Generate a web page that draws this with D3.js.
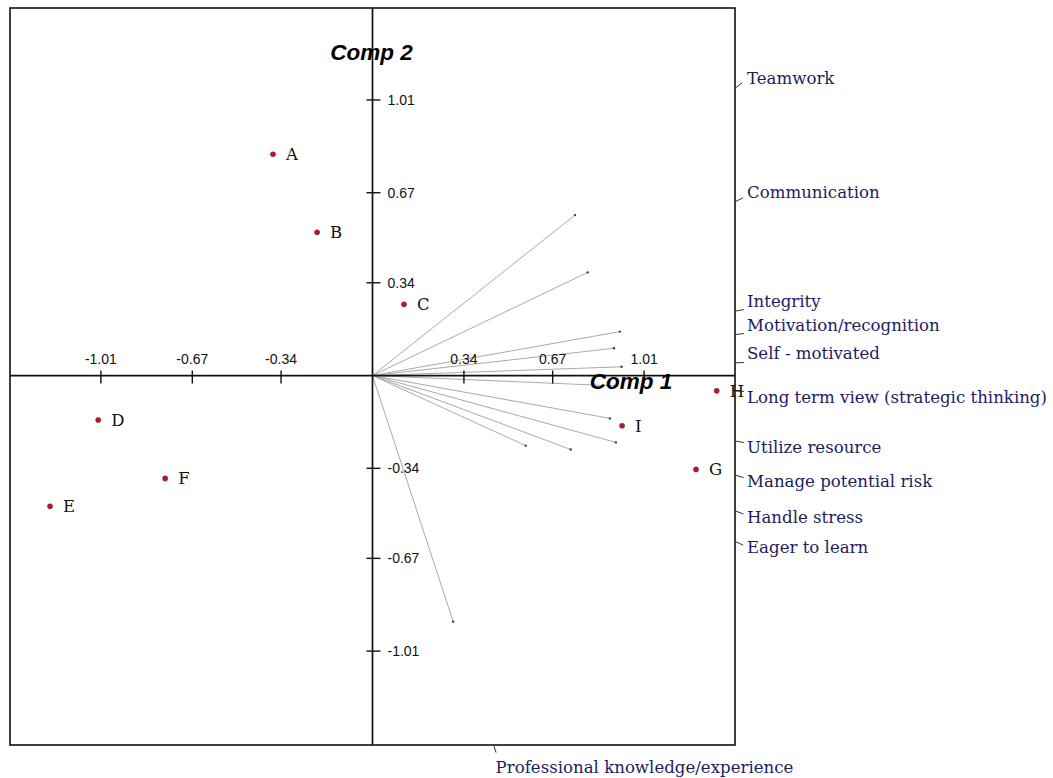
<!DOCTYPE html>
<html>
<head>
<meta charset="utf-8">
<script src="https://cdn.jsdelivr.net/npm/d3@7/dist/d3.min.js"></script>
<style>
  html, body { margin: 0; padding: 0; background: #fff; }
  svg { display: block; }
</style>
</head>
<body>
<svg id="chart" width="1053" height="778"></svg>
<script>
// ---- data ----
const obsNames = ["A", "B", "C", "D", "E", "F", "G", "H", "I"];
const obsComp1 = [-0.370, -0.206, 0.117, -1.020, -1.199, -0.771, 1.203, 1.280, 0.928];
const obsComp2 = [0.811, 0.525, 0.261, -0.163, -0.479, -0.377, -0.344, -0.056, -0.184];

const varNames = ["Teamwork", "Communication", "Integrity", "Motivation/recognition",
  "Self - motivated", "Long term view (strategic thinking)", "Utilize resource",
  "Manage potential risk", "Handle stress", "Eager to learn", "Professional knowledge/experience"];
const varComp1 = [0.753, 0.800, 0.920, 0.898, 0.926, 0.901, 0.883, 0.905, 0.737, 0.570, 0.300];
const varComp2 = [0.588, 0.378, 0.161, 0.100, 0.032, -0.038, -0.157, -0.245, -0.271, -0.257, -0.902];

const tickValues = [-1.01, -0.67, -0.34, 0.34, 0.67, 1.01];
const tickLabels = ["-1.01", "-0.67", "-0.34", "0.34", "0.67", "1.01"];

// ---- layout ----
const svg = d3.select("#chart");
const L = 10, R = 735, T = 8, B = 745;
const x = d3.scaleLinear().domain([-1.348, 1.348]).range([L, R]);
const y = d3.scaleLinear().domain([-1.354, 1.347]).range([B, T]);
const x0 = x(0), y0 = y(0);

// frame
svg.append("rect").attr("x", L).attr("y", T).attr("width", R - L).attr("height", B - T)
  .attr("fill", "none").attr("stroke", "#111").attr("stroke-width", 1.6);

// vectors
const vars = varNames.map((n, i) => ({ name: n, c1: varComp1[i], c2: varComp2[i] }));
svg.append("g").selectAll("line").data(vars).join("line")
  .attr("x1", x0).attr("y1", y0)
  .attr("x2", d => x(d.c1)).attr("y2", d => y(d.c2))
  .attr("stroke", "#aaaaaa").attr("stroke-width", 1);
svg.append("g").selectAll("circle").data(vars).join("circle")
  .attr("cx", d => x(d.c1)).attr("cy", d => y(d.c2)).attr("r", 1.2)
  .attr("fill", "#444");

// axes
svg.append("line").attr("x1", L).attr("x2", R).attr("y1", y0).attr("y2", y0)
  .attr("stroke", "#111").attr("stroke-width", 1.7);
svg.append("line").attr("x1", x0).attr("x2", x0).attr("y1", T).attr("y2", B)
  .attr("stroke", "#111").attr("stroke-width", 1.7);

// x ticks
const gx = svg.append("g");
tickValues.forEach((v, i) => {
  gx.append("line").attr("x1", x(v)).attr("x2", x(v)).attr("y1", y0 - 5).attr("y2", y0 + 8)
    .attr("stroke", "#111").attr("stroke-width", 1.4);
  gx.append("text").attr("x", x(v)).attr("y", y0 - 12).attr("text-anchor", "middle")
    .attr("font-family", "Liberation Sans, Arial, sans-serif").attr("font-size", 14)
    .attr("fill", "#111").text(tickLabels[i]);
});
// y ticks
const gy = svg.append("g");
tickValues.forEach((v, i) => {
  gy.append("line").attr("x1", x0 - 6).attr("x2", x0 + 8).attr("y1", y(v)).attr("y2", y(v))
    .attr("stroke", "#111").attr("stroke-width", 1.4);
  gy.append("text").attr("x", x0 + 15).attr("y", y(v) + 5).attr("text-anchor", "start")
    .attr("font-family", "Liberation Sans, Arial, sans-serif").attr("font-size", 14)
    .attr("fill", "#111").text(tickLabels[i]);
});

// axis titles
svg.append("text").attr("x", x0 - 1).attr("y", 60).attr("text-anchor", "middle")
  .attr("font-family", "Liberation Sans, Arial, sans-serif").attr("font-weight", "bold")
  .attr("font-style", "italic").attr("font-size", 22.5).attr("fill", "#000").text("Comp 2");
svg.append("text").attr("x", x(0.808)).attr("y", y0 + 13).attr("text-anchor", "start")
  .attr("font-family", "Liberation Sans, Arial, sans-serif").attr("font-weight", "bold")
  .attr("font-style", "italic").attr("font-size", 22.5).attr("fill", "#000").text("Comp 1");

// observation points
const obs = obsNames.map((n, i) => ({ name: n, c1: obsComp1[i], c2: obsComp2[i] }));
svg.append("g").selectAll("circle").data(obs).join("circle")
  .attr("cx", d => x(d.c1)).attr("cy", d => y(d.c2)).attr("r", 2.8)
  .attr("fill", "#a8202b");
svg.append("g").selectAll("text").data(obs).join("text")
  .attr("x", d => x(d.c1) + 13).attr("y", d => y(d.c2) + 6)
  .attr("font-family", "DejaVu Serif, serif").attr("font-size", 16.5)
  .attr("fill", "#111").text(d => d.name);

// variable labels at the frame where the extended vectors meet it
const gl = svg.append("g");
vars.forEach(d => {
  const dx = x(d.c1) - x0, dy = y(d.c2) - y0;
  const tR = (R - x0) / dx;
  const tB = dy > 0 ? (B - y0) / dy : Infinity;
  const len = Math.hypot(dx, dy);
  const ux = dx / len, uy = dy / len;
  if (tR <= tB) {
    const yl = y0 + dy * tR;
    gl.append("line").attr("x1", R).attr("y1", yl).attr("x2", R + ux * 9).attr("y2", yl + uy * 9)
      .attr("stroke", "#333").attr("stroke-width", 1);
    gl.append("text").attr("x", R + 12).attr("y", d.c2 >= 0 ? yl - 4 : yl + 12)
      .attr("font-family", "DejaVu Serif, serif").attr("font-size", 16.6)
      .attr("fill", "#1d1d5e").text(d.name);
  } else {
    const xl = x0 + dx * tB;
    gl.append("line").attr("x1", xl).attr("y1", B).attr("x2", xl + ux * 8).attr("y2", B + uy * 8)
      .attr("stroke", "#333").attr("stroke-width", 1);
    gl.append("text").attr("x", xl + 2).attr("y", 773)
      .attr("font-family", "DejaVu Serif, serif").attr("font-size", 16.6)
      .attr("fill", "#1d1d5e").text(d.name);
  }
});
</script>
</body>
</html>
